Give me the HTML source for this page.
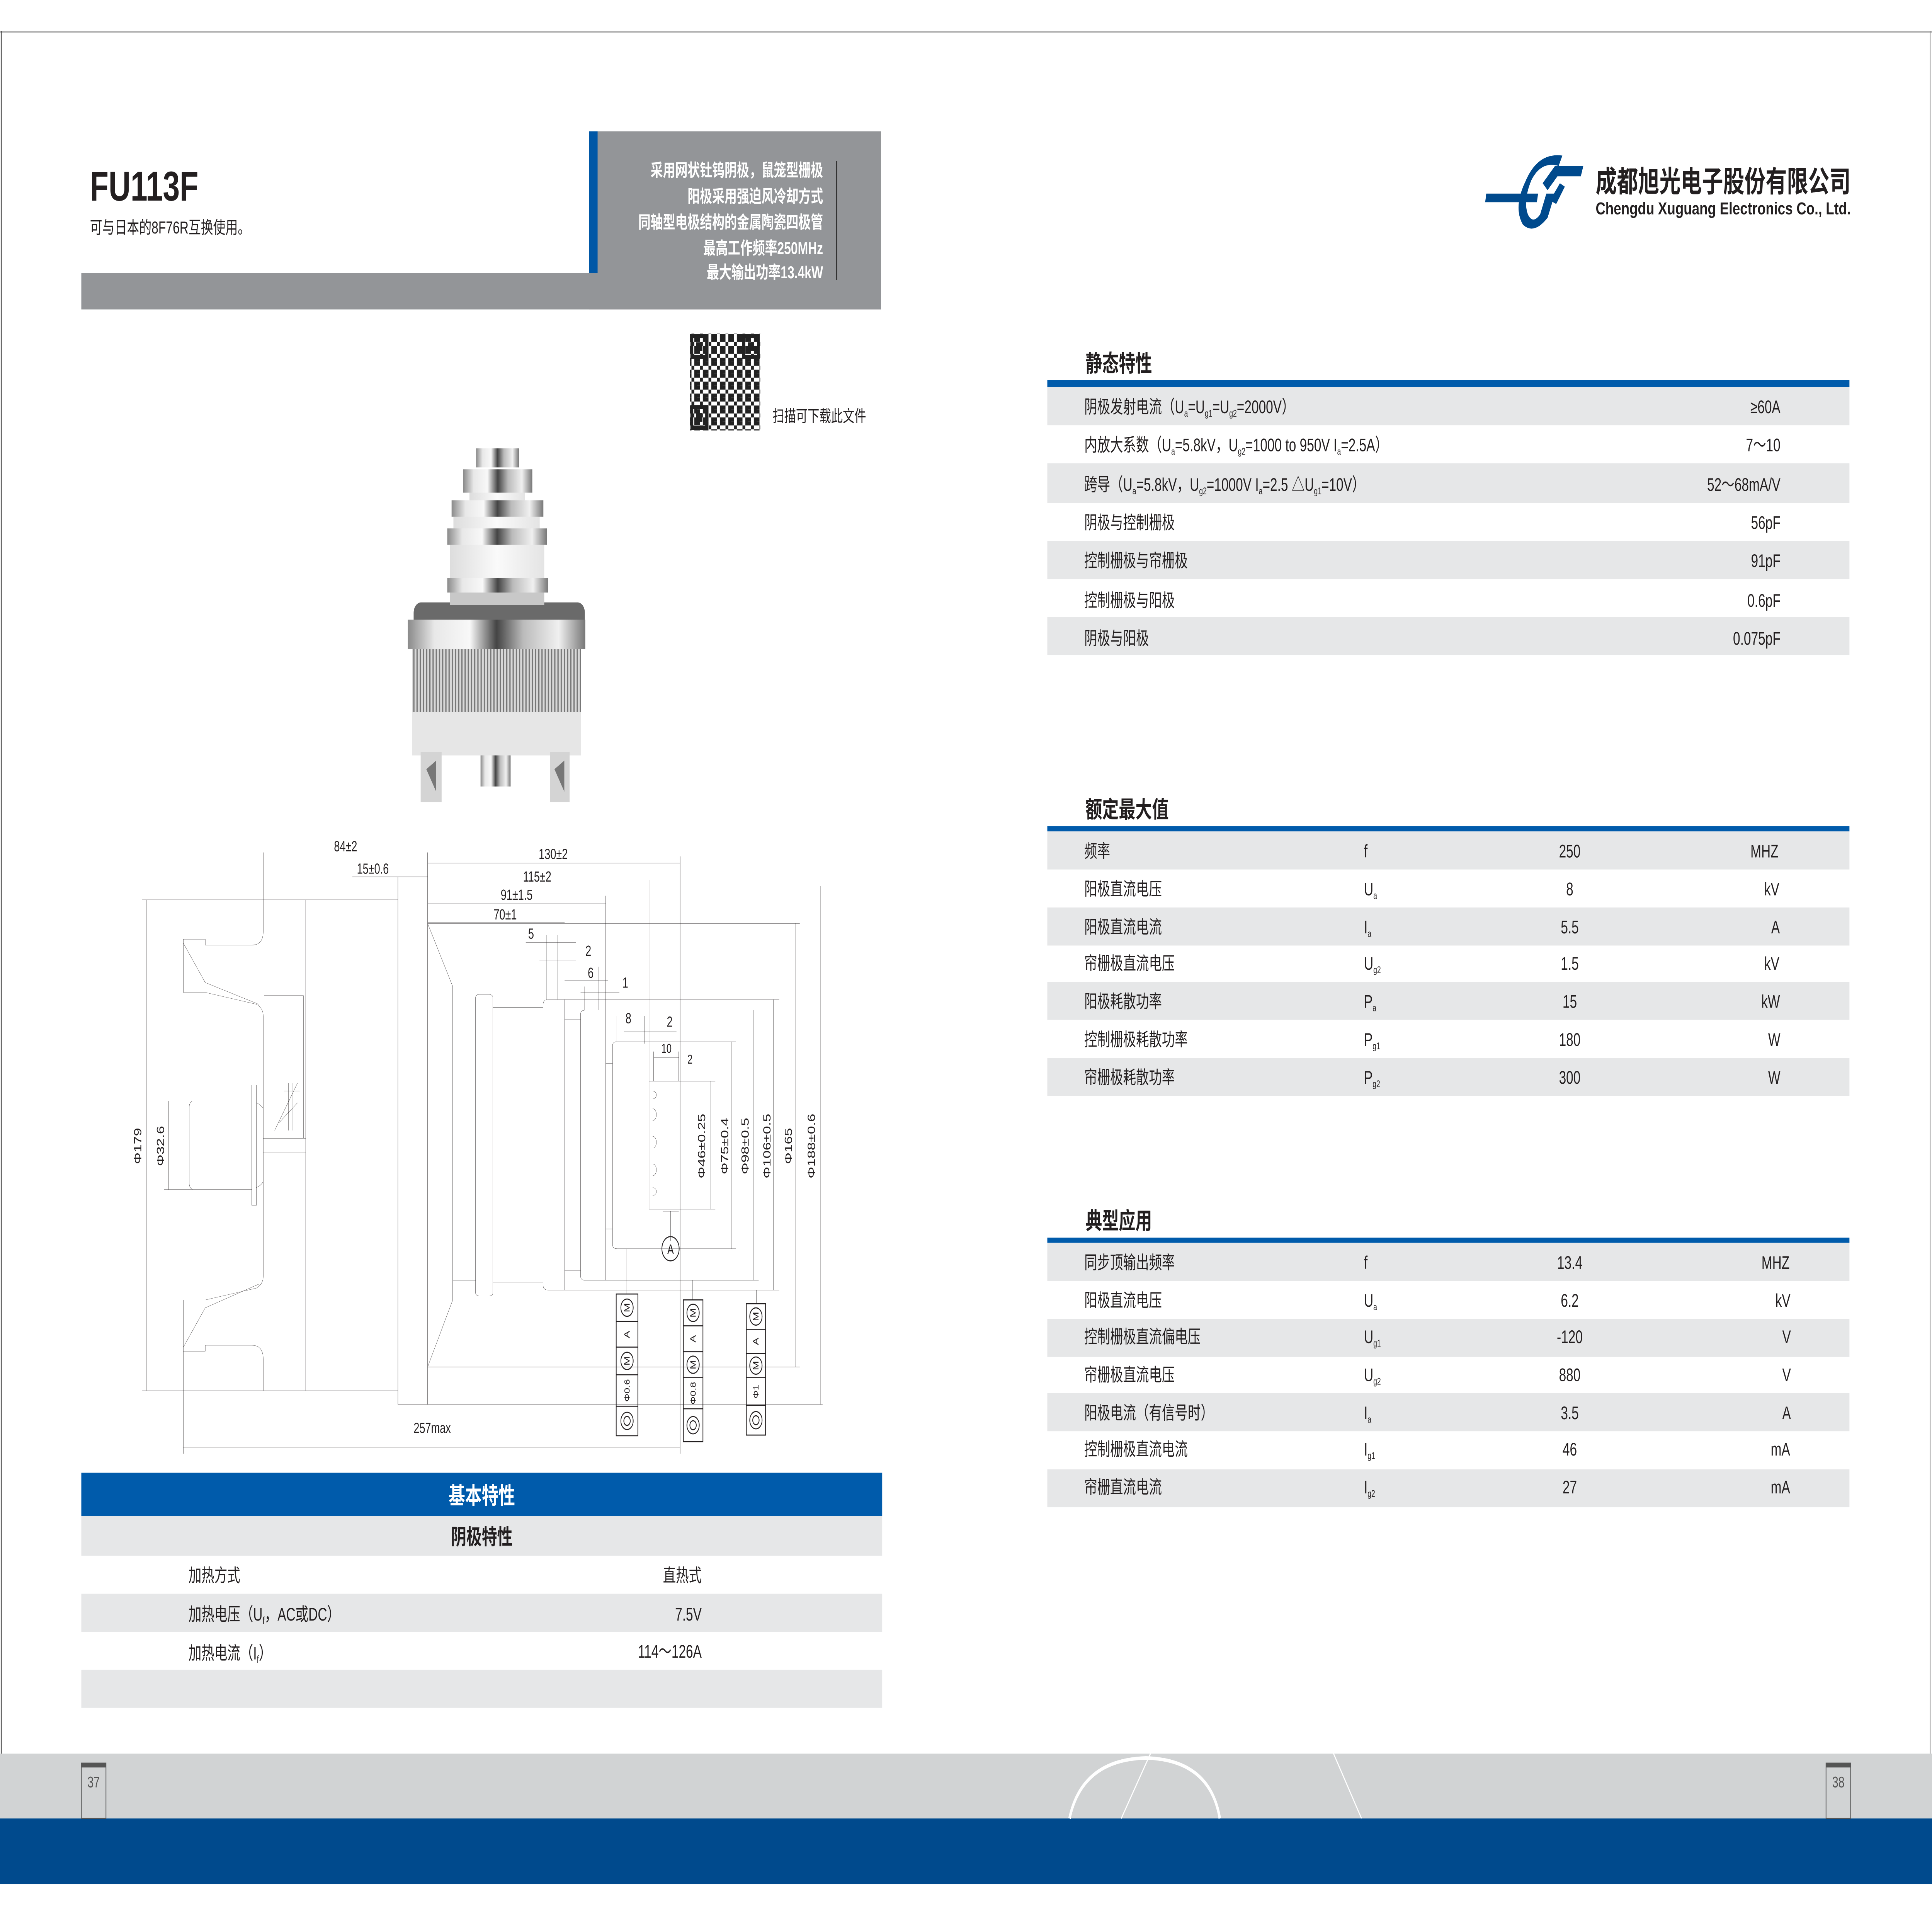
<!DOCTYPE html>
<html><head><meta charset="utf-8"><style>
html,body{margin:0;padding:0;background:#fff;width:100%;height:100%;overflow:hidden}
svg{display:block;position:absolute;left:0;top:0;width:100vw;height:100vh}
text{font-family:"Liberation Sans","Noto Sans CJK SC",sans-serif}
.d *{vector-effect:non-scaling-stroke}
</style></head><body>
<svg viewBox="0 0 1568 1109" preserveAspectRatio="none" xmlns="http://www.w3.org/2000/svg">
<defs>
<linearGradient id="m" x1="0" x2="1" y1="0" y2="0">
<stop offset="0" stop-color="#8a8a8a"/><stop offset="0.15" stop-color="#e8e8e8"/><stop offset="0.35" stop-color="#f8f8f8"/><stop offset="0.5" stop-color="#444"/><stop offset="0.65" stop-color="#bbb"/><stop offset="0.85" stop-color="#f0f0f0"/><stop offset="1" stop-color="#777"/></linearGradient>
<linearGradient id="c" x1="0" x2="1"><stop offset="0" stop-color="#ddd"/><stop offset="0.5" stop-color="#fafafa"/><stop offset="1" stop-color="#e4e4e4"/></linearGradient>
<pattern id="fin" width="2.6" height="10" patternUnits="userSpaceOnUse"><rect width="2.6" height="10" fill="#d8d8d8"/><rect width="1" height="10" fill="#777"/></pattern>
<pattern id="qr" width="6.9" height="6.9" patternUnits="userSpaceOnUse"><rect width="6.9" height="6.9" fill="#fff"/><rect x="0" y="0" width="2.3" height="2.3" fill="#222"/><rect x="4.6" y="0" width="2.3" height="4.6" fill="#222"/><rect x="2.3" y="4.6" width="2.3" height="2.3" fill="#222"/><rect x="0" y="2.3" width="2.3" height="2.3" fill="#222"/></pattern>
</defs>

<rect x="0" y="0" width="1568" height="1109" fill="#fff"/>
<line x1="0" y1="18.5" x2="1568" y2="18.5" stroke="#888" stroke-width="0.6"/>
<line x1="1" y1="18" x2="1" y2="1015" stroke="#444" stroke-width="0.8"/>
<line x1="1566.5" y1="18" x2="1566.5" y2="1015" stroke="#888" stroke-width="0.6"/>

<rect x="478" y="76" width="237" height="103" fill="#939598"/>
<rect x="66" y="158" width="649" height="21" fill="#939598"/>
<rect x="478" y="76" width="7" height="82" fill="#0057a6"/>
<line x1="679" y1="93" x2="679" y2="162" stroke="#333" stroke-width="0.8"/>
<g fill="#fff" font-weight="bold" font-size="10" text-anchor="end">
<text x="668" y="102">采用网状钍钨阴极，鼠笼型栅极</text>
<text x="668" y="117">阳极采用强迫风冷却方式</text>
<text x="668" y="132">同轴型电极结构的金属陶瓷四极管</text>
<text x="668" y="147">最高工作频率250MHz</text>
<text x="668" y="161">最大输出功率13.4kW</text>
</g>
<text x="73" y="116" font-size="24" font-weight="bold" fill="#231f20" textLength="88" lengthAdjust="spacingAndGlyphs">FU113F</text>
<text x="73" y="135" font-size="10" fill="#231f20">可与日本的8F76R互换使用。</text>

<rect x="560" y="193" width="57" height="56" fill="url(#qr)"/>
<g fill="none" stroke="#222" stroke-width="2.3">
<rect x="561.5" y="194.5" width="12" height="12"/><rect x="603.5" y="194.5" width="12" height="12"/><rect x="561.5" y="235.5" width="12" height="12"/></g>
<g fill="#222"><rect x="565" y="198" width="5" height="5"/><rect x="607" y="198" width="5" height="5"/><rect x="565" y="239" width="5" height="5"/></g>
<text x="627" y="244" font-size="9.5" fill="#231f20">扫描可下载此文件</text>

<g>
<rect x="334.6" y="411" width="136.8" height="26" fill="#e6e6e6"/>
<rect x="341.4" y="435" width="17" height="29" fill="#d4d4d4"/><path d="M346,445 L354,440 L354,458 Z" fill="#777"/>
<rect x="446.3" y="435" width="16" height="29" fill="#d4d4d4"/><path d="M450,445 L458,440 L458,458 Z" fill="#777"/>
<rect x="390" y="437" width="24.4" height="18" fill="url(#m)"/>
<rect x="334.6" y="375" width="136.8" height="37" fill="url(#fin)"/>
<rect x="335.7" y="348.5" width="139" height="16" rx="6" fill="#6a6a6a"/>
<rect x="331" y="358.5" width="144" height="17" fill="url(#m)"/>
<rect x="365.3" y="342" width="76.4" height="8" fill="#c8c8c8"/>
<rect x="365.3" y="315" width="76.4" height="20" fill="url(#c)"/>
<rect x="363" y="334.3" width="82" height="8.5" fill="url(#m)"/>
<rect x="368" y="298.6" width="70" height="7.5" fill="url(#c)"/>
<rect x="363" y="305.7" width="81" height="9.5" fill="url(#m)"/>
<rect x="381" y="281" width="45" height="8.5" fill="url(#c)"/>
<rect x="366.5" y="289.4" width="74.5" height="9.5" fill="url(#m)"/>
<rect x="376" y="271.5" width="56" height="13.5" fill="url(#m)"/>
<rect x="386.4" y="259.4" width="34.8" height="11" fill="url(#m)"/>
</g>

<g class="d" transform="translate(100.6,480.6) scale(0.3706,0.2281)" fill="none" stroke="#231f20" stroke-width="0.6">
<path d="M305,55 V255 Q305,290 280,290 H178 V275 H130 V410 H178 L290,440 Q305,450 305,470 V1130 Q305,1150 290,1160 L178,1190 H130 V1320 H178 V1305 H280 Q305,1305 305,1340 V1420"/>
<path d="M130,285 L178,385 L295,440 M130,1310 L178,1210 L295,1150"/>
<path d="M398,175 V1420 M40,175 H600 M40,1420 H600 M50,175 V1420"/>
<path d="M600,140 H1530 M600,1455 H1530 M600,117 V1455 M665,55 V1455"/>
<path d="M665,235 H1480 M665,235 L720,395 V1190 L665,1360 H1480"/>
<rect x="770" y="415" width="38" height="765" rx="8"/>
<path d="M720,455 H770 M720,1140 H770 M808,448 H918 M808,1145 H918"/>
<path d="M1435,428 H930 Q918,428 918,440 V1153 Q918,1165 930,1165 H1435"/>
<path d="M965,428 V1165 M965,478 H1000 M965,1115 H1000"/>
<path d="M1390,455 H1010 Q1000,455 1000,465 V1130 Q1000,1140 1010,1140 H1390"/>
<path d="M1055,165 V1140 M1055,590 H1070 M1055,1010 H1070"/>
<path d="M1340,535 H1080 Q1070,535 1070,545 V1050 Q1070,1060 1080,1060 H1340"/>
<path d="M1150,125 V960 M1150,635 H1295 M1150,960 H1295 M1218,65 V1580"/>
<path d="M1158,660 a8,10 0 0 1 0,20 M1158,705 a8,15 0 0 1 0,30 M1158,775 a8,15 0 0 1 0,30 M1158,845 a8,15 0 0 1 0,30 M1158,905 a8,10 0 0 1 0,20"/>
<path d="M1197,965 V1040 M1180,965 H1215 M1100,1060 V1175 M1245,1140 V1190 M1385,1165 V1200"/>
<path d="M120,797 H1245" stroke-dasharray="14 4 3 4"/>
<path d="M150,685 H280 M150,910 H280 M150,685 Q143,690 143,700 V895 Q143,905 150,910"/>
<rect x="280" y="645" width="10" height="305"/>
<path d="M290,690 Q300,695 305,705 M290,905 Q300,900 305,890 M88,685 H150 M88,910 H150 M98,685 V910"/>
<rect x="307" y="418" width="86" height="362"/>
<path d="M305,780 H398 M305,815 H398 M330,760 L380,640 M340,740 L380,690 M350,660 H385 M360,640 V760 M370,640 V760"/>
<path d="M305,62 H665 M500,117 H665 M665,82 H1218 M665,185 H1055 M665,232 H965"/>
<path d="M880,283 H990 M925,265 V428 M950,265 V428 M910,330 H990 M965,380 H1060 M1040,345 V455 M1000,410 H1085 M1008,395 V455"/>
<path d="M1075,490 H1140 M1078,470 V535 M1140,470 V540 M1095,510 H1210 M1160,575 H1215 M1160,560 V635 M1215,560 V635 M1170,602 H1280"/>
<path d="M1285,635 V960 M1330,535 V1060 M1378,455 V1140 M1422,428 V1165 M1470,235 V1360 M1525,140 V1455"/>
<path d="M130,1320 V1580 M130,1565 H1218"/>
</g>
<circle cx="544.2" cy="722.4" r="7" fill="none" stroke="#231f20" stroke-width="0.6"/>
<text x="544.2" y="725.5" font-size="8" text-anchor="middle" fill="#231f20">A</text>

<g fill="none" stroke="#231f20" stroke-width="0.6">
<rect x="500.1" y="748.6" width="17.6" height="82"/><path d="M500.1,764.5 H517.7 M500.1,779.3 H517.7 M500.1,795.3 H517.7 M500.1,813.5 H517.7"/>
<rect x="554.6" y="752" width="15.9" height="82"/><path d="M554.6,767 H570.5 M554.6,782 H570.5 M554.6,797 H570.5 M554.6,815 H570.5"/>
<rect x="605.7" y="754.2" width="15.6" height="76"/><path d="M605.7,769 H621.3 M605.7,783 H621.3 M605.7,797 H621.3 M605.7,813 H621.3"/>
<circle cx="508.9" cy="756.5" r="5"/><circle cx="508.9" cy="787.3" r="5"/><circle cx="508.9" cy="822" r="5"/><circle cx="508.9" cy="822" r="2.6"/>
<circle cx="562.5" cy="759.5" r="5"/><circle cx="562.5" cy="789.5" r="5"/><circle cx="562.5" cy="824.5" r="5"/><circle cx="562.5" cy="824.5" r="2.6"/>
<circle cx="613.5" cy="761.6" r="5"/><circle cx="613.5" cy="790" r="5"/><circle cx="613.5" cy="821.6" r="5"/><circle cx="613.5" cy="821.6" r="2.6"/>
</g>
<g font-size="6.5" fill="#231f20" text-anchor="middle" dominant-baseline="central">
<text transform="translate(508.9,756.5) rotate(-90)">M</text><text transform="translate(508.9,772) rotate(-90)">A</text><text transform="translate(508.9,787.3) rotate(-90)">M</text><text transform="translate(508.9,804.4) rotate(-90)" font-size="6">Φ0.6</text>
<text transform="translate(562.5,759.5) rotate(-90)">M</text><text transform="translate(562.5,774.5) rotate(-90)">A</text><text transform="translate(562.5,789.5) rotate(-90)">M</text><text transform="translate(562.5,806) rotate(-90)" font-size="6">Φ0.8</text>
<text transform="translate(613.5,761.6) rotate(-90)">M</text><text transform="translate(613.5,776) rotate(-90)">A</text><text transform="translate(613.5,790) rotate(-90)">M</text><text transform="translate(613.5,805) rotate(-90)" font-size="6">Φ1</text>
</g>

<g font-size="8.5" fill="#231f20" text-anchor="middle" dominant-baseline="central">
<text x="280.5" y="489.5">84±2</text>
<text x="302.6" y="502.5">15±0.6</text>
<text x="449" y="494">130±2</text>
<text x="436" y="507">115±2</text>
<text x="419.3" y="517.5">91±1.5</text>
<text x="410" y="529">70±1</text>
<text x="431" y="540">5</text>
<text x="477.5" y="550">2</text>
<text x="479.4" y="562.7">6</text>
<text x="507.5" y="568.4">1</text>
<text x="510" y="589">8</text>
<text x="543.5" y="591">2</text>
<text x="540.9" y="606.7" font-size="7.5">10</text>
<text x="560" y="613" font-size="7.5">2</text>
<text x="350.8" y="826">257max</text>
<text transform="translate(111.7,663) rotate(-90)">Φ179</text>
<text transform="translate(130.2,663) rotate(-90)">Φ32.6</text>
<text transform="translate(569.4,663) rotate(-90)">Φ46±0.25</text>
<text transform="translate(588,663) rotate(-90)">Φ75±0.4</text>
<text transform="translate(604.6,663) rotate(-90)">Φ98±0.5</text>
<text transform="translate(622.4,663) rotate(-90)">Φ106±0.5</text>
<text transform="translate(639.8,663) rotate(-90)">Φ165</text>
<text transform="translate(658.4,663) rotate(-90)">Φ188±0.6</text>
</g>

<rect x="66" y="852" width="650" height="25" fill="#005bab"/>
<rect x="66" y="877" width="650" height="23" fill="#e6e7e8"/>
<rect x="66" y="922" width="650" height="22" fill="#e6e7e8"/>
<rect x="66" y="966" width="650" height="22" fill="#e6e7e8"/>
<text x="391" y="870" font-size="13.5" font-weight="bold" fill="#fff" text-anchor="middle">基本特性</text>
<text x="391" y="893.5" font-size="12.5" font-weight="bold" fill="#231f20" text-anchor="middle">阴极特性</text>
<g font-size="10.5" fill="#231f20">
<text x="153" y="915">加热方式</text>
<text x="153" y="937.5">加热电压（U<tspan font-size="6" dy="2">f</tspan><tspan dy="-2">，AC或DC）</tspan></text>
<text x="153" y="960">加热电流（I<tspan font-size="6" dy="2">f</tspan><tspan dy="-2">）</tspan></text>
<g text-anchor="end"><text x="569.5" y="915">直热式</text><text x="569.5" y="937.5">7.5V</text><text x="569.5" y="959">114～126A</text></g>
</g>

<g fill="#004a8d">
<path d="M1268,90 Q1248,88 1238,105 Q1228,120 1236,130 Q1245,136 1256,126 L1262,112 L1255,112 L1250,124 Q1244,130 1240,124 Q1236,116 1243,104 Q1251,93 1265,96 Z"/>
<rect x="1226" y="112" width="42" height="5" transform="skewX(-10)" />
<path d="M1252,106 L1262,96 L1285,96 L1283,102 L1264,102 L1256,110 Z"/>
<path d="M1258,116 L1266,106 L1270,108 L1263,118 Z"/>
</g>
<text x="1295" y="111" font-size="17" font-weight="bold" fill="#231f20" textLength="207" lengthAdjust="spacingAndGlyphs">成都旭光电子股份有限公司</text>
<text x="1295" y="124" font-size="10" font-weight="bold" fill="#231f20" textLength="207" lengthAdjust="spacingAndGlyphs">Chengdu Xuguang Electronics Co., Ltd.</text>

<text x="881" y="215" font-size="13.5" font-weight="bold" fill="#231f20">静态特性</text>
<rect x="850" y="220" width="651" height="4" fill="#005bab"/>
<g fill="#e6e7e8"><rect x="850" y="224" width="651" height="22"/><rect x="850" y="268" width="651" height="23"/><rect x="850" y="313" width="651" height="22"/><rect x="850" y="357" width="651" height="22"/></g>
<g font-size="10.5" fill="#231f20">
<text x="880" y="239">阴极发射电流（U<tspan font-size="5.5" dy="2">a</tspan><tspan dy="-2">=U</tspan><tspan font-size="5.5" dy="2">g1</tspan><tspan dy="-2">=U</tspan><tspan font-size="5.5" dy="2">g2</tspan><tspan dy="-2">=2000V）</tspan></text>
<text x="880" y="261">内放大系数（U<tspan font-size="5.5" dy="2">a</tspan><tspan dy="-2">=5.8kV，U</tspan><tspan font-size="5.5" dy="2">g2</tspan><tspan dy="-2">=1000 to 950V I</tspan><tspan font-size="5.5" dy="2">a</tspan><tspan dy="-2">=2.5A）</tspan></text>
<text x="880" y="284">跨导（U<tspan font-size="5.5" dy="2">a</tspan><tspan dy="-2">=5.8kV，U</tspan><tspan font-size="5.5" dy="2">g2</tspan><tspan dy="-2">=1000V I</tspan><tspan font-size="5.5" dy="2">a</tspan><tspan dy="-2">=2.5 △U</tspan><tspan font-size="5.5" dy="2">g1</tspan><tspan dy="-2">=10V）</tspan></text>
<text x="880" y="306">阴极与控制栅极</text>
<text x="880" y="328">控制栅极与帘栅极</text>
<text x="880" y="351">控制栅极与阳极</text>
<text x="880" y="373">阴极与阳极</text>
<g text-anchor="end"><text x="1445" y="239">≥60A</text><text x="1445" y="261">7～10</text><text x="1445" y="284">52～68mA/V</text><text x="1445" y="306">56pF</text><text x="1445" y="328">91pF</text><text x="1445" y="351">0.6pF</text><text x="1445" y="373">0.075pF</text></g>
</g>

<text x="881" y="473" font-size="13.5" font-weight="bold" fill="#231f20">额定最大值</text>
<rect x="850" y="478" width="651" height="3" fill="#005bab"/>
<g fill="#e6e7e8"><rect x="850" y="481" width="651" height="22"/><rect x="850" y="525" width="651" height="22"/><rect x="850" y="568" width="651" height="22"/><rect x="850" y="612" width="651" height="22"/></g>
<g font-size="10.5" fill="#231f20">
<text x="880" y="496">频率</text><text x="880" y="518">阳极直流电压</text><text x="880" y="540">阳极直流电流</text><text x="880" y="561">帘栅极直流电压</text><text x="880" y="583">阳极耗散功率</text><text x="880" y="605">控制栅极耗散功率</text><text x="880" y="627">帘栅极耗散功率</text>
<text x="1107" y="496">f</text>
<text x="1107" y="518">U<tspan font-size="5.5" dy="2">a</tspan></text>
<text x="1107" y="540">I<tspan font-size="5.5" dy="2">a</tspan></text>
<text x="1107" y="561">U<tspan font-size="5.5" dy="2">g2</tspan></text>
<text x="1107" y="583">P<tspan font-size="5.5" dy="2">a</tspan></text>
<text x="1107" y="605">P<tspan font-size="5.5" dy="2">g1</tspan></text>
<text x="1107" y="627">P<tspan font-size="5.5" dy="2">g2</tspan></text>
<g text-anchor="middle"><text x="1274" y="496">250</text><text x="1274" y="518">8</text><text x="1274" y="540">5.5</text><text x="1274" y="561">1.5</text><text x="1274" y="583">15</text><text x="1274" y="605">180</text><text x="1274" y="627">300</text>
<text x="1432" y="496">MHZ</text><text x="1438" y="518">kV</text><text x="1441" y="540">A</text><text x="1438" y="561">kV</text><text x="1437" y="583">kW</text><text x="1440" y="605">W</text><text x="1440" y="627">W</text></g>
</g>

<text x="881" y="711" font-size="13.5" font-weight="bold" fill="#231f20">典型应用</text>
<rect x="850" y="716" width="651" height="3" fill="#005bab"/>
<g fill="#e6e7e8"><rect x="850" y="719" width="651" height="22"/><rect x="850" y="763" width="651" height="22"/><rect x="850" y="806" width="651" height="22"/><rect x="850" y="850" width="651" height="22"/></g>
<g font-size="10.5" fill="#231f20">
<text x="880" y="734">同步顶输出频率</text><text x="880" y="756">阳极直流电压</text><text x="880" y="777">控制栅极直流偏电压</text><text x="880" y="799">帘栅极直流电压</text><text x="880" y="821">阳极电流（有信号时）</text><text x="880" y="842">控制栅极直流电流</text><text x="880" y="864">帘栅直流电流</text>
<text x="1107" y="734">f</text>
<text x="1107" y="756">U<tspan font-size="5.5" dy="2">a</tspan></text>
<text x="1107" y="777">U<tspan font-size="5.5" dy="2">g1</tspan></text>
<text x="1107" y="799">U<tspan font-size="5.5" dy="2">g2</tspan></text>
<text x="1107" y="821">I<tspan font-size="5.5" dy="2">a</tspan></text>
<text x="1107" y="842">I<tspan font-size="5.5" dy="2">g1</tspan></text>
<text x="1107" y="864">I<tspan font-size="5.5" dy="2">g2</tspan></text>
<g text-anchor="middle"><text x="1274" y="734">13.4</text><text x="1274" y="756">6.2</text><text x="1274" y="777">-120</text><text x="1274" y="799">880</text><text x="1274" y="821">3.5</text><text x="1274" y="842">46</text><text x="1274" y="864">27</text>
<text x="1441" y="734">MHZ</text><text x="1447" y="756">kV</text><text x="1450" y="777">V</text><text x="1450" y="799">V</text><text x="1450" y="821">A</text><text x="1445" y="842">mA</text><text x="1445" y="864">mA</text></g>
</g>

<rect x="0" y="1014.5" width="1568" height="37.5" fill="#d1d3d4"/>
<rect x="0" y="1052" width="1568" height="38" fill="#004a8d"/>
<g fill="none" stroke="#fff">
<path d="M868,1052 Q878,1018 930,1017 Q982,1018 990,1052" stroke-width="2"/>
<path d="M910,1052 L934,1014" stroke-width="0.8"/>
<path d="M1082,1014 L1105,1052" stroke-width="0.8"/>
</g>
<rect x="66" y="1020" width="20" height="32" fill="none" stroke="#555" stroke-width="0.6"/><rect x="66" y="1020" width="20" height="2.5" fill="#555"/>
<rect x="1482" y="1020" width="20" height="32" fill="none" stroke="#555" stroke-width="0.6"/><rect x="1482" y="1020" width="20" height="2.5" fill="#555"/>
<text x="76" y="1034" font-size="9" fill="#555" text-anchor="middle">37</text>
<text x="1492" y="1034" font-size="9" fill="#555" text-anchor="middle">38</text>
</svg>
</body></html>
